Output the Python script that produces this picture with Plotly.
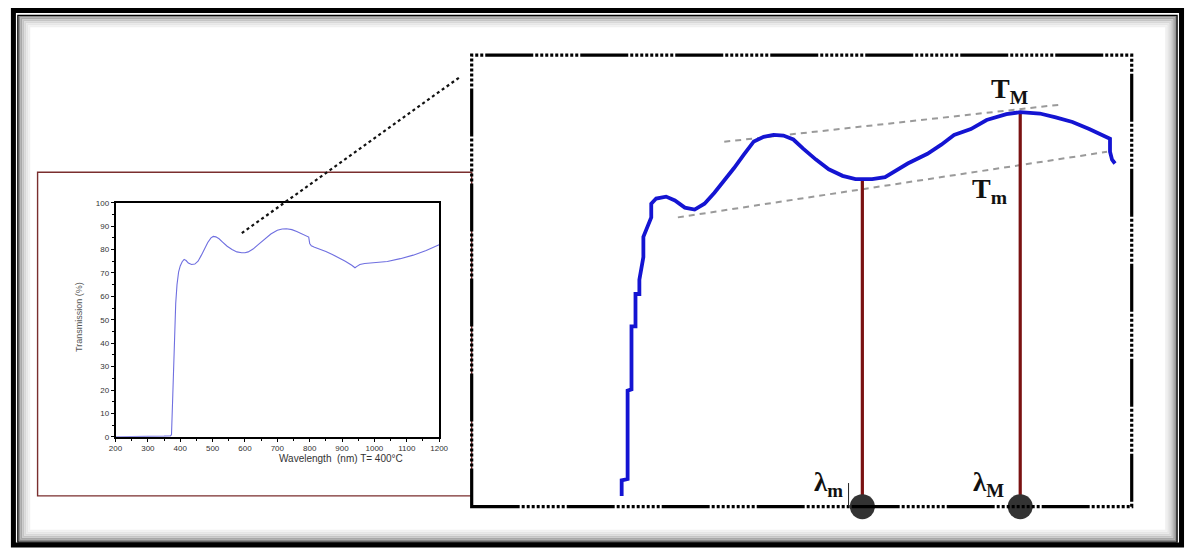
import plotly.graph_objects as go

W, H = 1193, 552

# ---------------- data ----------------
# inset: full transmission spectrum
inset_wl = [200, 250, 300, 350, 370, 373, 377, 380, 383, 386, 390, 395, 400, 406, 412,
            418, 425, 435, 445, 455, 465, 475, 485, 495, 502, 510, 520, 530, 545, 560,
            575, 590, 600, 610, 625, 640, 660, 680, 700, 715, 728, 745, 760, 775, 790,
            797, 800, 805, 815, 830, 850, 870, 890, 910, 930, 940, 946, 955, 970, 1000,
            1040, 1080, 1120, 1160, 1200]
inset_T = [0, 0, 0, 0.3, 0.4, 1, 18, 32, 45, 57, 65, 70.5, 73, 74.8, 75.8,
           75.3, 74.2, 73.6, 73.8, 75, 77.5, 80.5, 83, 85, 85.6, 85.4, 84.6, 83.3, 81.4, 80,
           79, 78.6, 78.6, 79, 80.2, 82, 84.5, 86.6, 88.2, 88.8, 88.9, 88.5, 87.7, 86.7, 85.8,
           85.3, 82.6, 81.6, 81, 80.3, 79.2, 77.9, 76.6, 75, 73.3, 72.2, 72.8, 73.6, 74, 74.3,
           74.9, 76.1, 77.6, 79.6, 82]

# zoomed view
zoom_wl = [376.1, 376.1, 381.3, 381.3, 384.7, 384.7, 388.2, 388.2, 391.6, 391.6, 395.1,
           395.1, 402.0, 402.0, 406.3, 415.0, 422.7, 431.4, 440.0, 448.6, 457.3, 465.9,
           474.5, 483.2, 491.8, 500.4, 509.1, 517.7, 526.4, 535.0, 546.2, 557.4, 569.5,
           580.8, 586.8, 595.4, 606.7, 615.3, 626.5, 643.8, 655.9, 667.1, 681.8, 695.6,
           712.9, 725.0, 742.2, 756.1, 770.7, 785.4, 799.3, 803.6, 803.6, 805.4, 808.0]
zoom_T = [29.4, 31.8, 32.0, 45.6, 45.8, 55.5, 55.5, 60.5, 60.5, 62.7, 66.2,
          69.3, 72.3, 74.4, 75.2, 75.5, 74.9, 73.8, 73.5, 74.4, 76.1, 77.9,
          79.9, 82.0, 84.0, 84.7, 85.0, 84.9, 84.3, 82.9, 81.2, 79.7, 78.7,
          78.2, 78.2, 78.2, 78.5, 79.4, 80.6, 82.1, 83.5, 85.0, 85.9, 87.3,
          88.2, 88.5, 88.3, 87.7, 87.0, 85.9, 84.8, 84.4, 82.4, 81.2, 80.6]

# envelope lines (T_M and T_m)
env_max_wl = [465.9, 762.1]
env_max_T = [83.95, 89.7]
env_min_wl = [425.3, 801.0]
env_min_T = [72.3, 82.4]

# extrema
lam_m, T_min_val = 586.8, 78.2
lam_M, T_max_val = 725.0, 88.5

Y2_RANGE = [27.74, 97.29]
X2_RANGE = [244.8, 822.6]


def px(x):
    return x / W


def py(y):
    return 1 - y / H


fig = go.Figure()

# inset curve
fig.add_trace(go.Scatter(x=inset_wl, y=inset_T, mode="lines",
                         line=dict(color="#6f6fe0", width=1.1),
                         xaxis="x", yaxis="y", hoverinfo="skip"))

# envelopes
for xs, ys in [(env_max_wl, env_max_T), (env_min_wl, env_min_T)]:
    fig.add_trace(go.Scatter(x=xs, y=ys, mode="lines",
                             line=dict(color="#9a9a9a", width=2, dash="6px,5px"),
                             xaxis="x2", yaxis="y2", hoverinfo="skip"))

# vertical lines at extrema
for lx, ly in [(lam_m, T_min_val), (lam_M, T_max_val)]:
    fig.add_trace(go.Scatter(x=[lx, lx], y=[ly, Y2_RANGE[0]], mode="lines",
                             line=dict(color="#7a1212", width=3.2),
                             xaxis="x2", yaxis="y2", hoverinfo="skip"))

# zoomed curve
fig.add_trace(go.Scatter(x=zoom_wl, y=zoom_T, mode="lines",
                         line=dict(color="#1414d2", width=3.8),
                         xaxis="x2", yaxis="y2", hoverinfo="skip"))

# dots on the axis
fig.add_trace(go.Scatter(x=[lam_m, lam_M], y=[Y2_RANGE[0], Y2_RANGE[0]], mode="markers",
                         marker=dict(color="#333333", size=25),
                         cliponaxis=False, xaxis="x2", yaxis="y2", hoverinfo="skip"))

shapes = []
# outer borders
shapes.append(dict(type="rect", xref="paper", yref="paper",
                   x0=px(6.5), x1=px(1190.5), y0=py(6.5), y1=py(550),
                   line=dict(color="black", width=5)))
# shadow gradient
grays = ["#8a8a8a", "#a8a8a8", "#c4c4c4", "#d8d8d8", "#e6e6e6", "#f0f0f0"]
for i, g in enumerate(grays):
    o = 12.5 + i * 2
    shapes.append(dict(type="rect", xref="paper", yref="paper",
                       x0=px(o), x1=px(1185 - i * 2), y0=py(o), y1=py(545.5 - i * 2),
                       line=dict(color=g, width=2)))
shapes.append(dict(type="rect", xref="paper", yref="paper",
                   x0=px(11), x1=px(1186), y0=py(11.5), y1=py(547),
                   line=dict(color="black", width=1.3)))

# red box around the inset
shapes.append(dict(type="rect", xref="paper", yref="paper",
                   x0=px(31), x1=px(471), y0=py(171), y1=py(500),
                   line=dict(color="#7a2e2e", width=1.4)))

# dotted pointer line
shapes.append(dict(type="line", xref="paper", yref="paper",
                   x0=px(238), y0=py(233), x1=px(458), y1=py(75),
                   line=dict(color="#111111", width=2.2, dash="dot")))

# zoom frame (solid / dotted alternating)
frame_dash = "48px,2px," + ",".join(["3px,2px"] * 9)
shapes.append(dict(type="rect", xref="x2 domain", yref="y2 domain",
                   x0=0, x1=1, y0=0, y1=1,
                   line=dict(color="black", width=3.2, dash=frame_dash)))

# small tick next to lambda_m
shapes.append(dict(type="line", xref="paper", yref="paper",
                   x0=px(853), x1=px(853), y0=py(487), y1=py(511),
                   line=dict(color="#222222", width=1)))

serif = "Liberation Serif, Times New Roman, serif"
annotations = [
    dict(text="<b>T<sub>M</sub></b>", x=px(1037), y=py(68), xref="paper", yref="paper",
         showarrow=False, font=dict(family=serif, size=28, color="#111")),
    dict(text="<b>T<sub>m</sub></b>", x=px(1016), y=py(190), xref="paper", yref="paper",
         showarrow=False, font=dict(family=serif, size=28, color="#111")),
    dict(text="<b>λ<sub>m</sub></b>", x=px(849), y=py(507), xref="paper", yref="paper",
         showarrow=False, font=dict(family=serif, size=27, color="#111")),
    dict(text="<b>λ<sub>M</sub></b>", x=px(1013), y=py(507), xref="paper", yref="paper",
         showarrow=False, font=dict(family=serif, size=27, color="#111")),
    dict(text="Wavelength  (nm) T= 400°C", x=px(274), y=py(470), xref="paper", yref="paper",
         showarrow=False, font=dict(family="Liberation Sans, Arial", size=10, color="#333")),
    dict(text="Transmission (%)", x=px(66), y=py(318), xref="paper", yref="paper",
         showarrow=False, textangle=-90,
         font=dict(family="Liberation Sans, Arial", size=9, color="#555")),
]

axis_common = dict(showline=True, linecolor="black", linewidth=1.5, mirror=True,
                   ticks="outside", ticklen=3, tickwidth=1, tickcolor="black",
                   showgrid=False, zeroline=False,
                   tickfont=dict(family="Liberation Sans, Arial", size=8, color="#333"))

fig.update_layout(
    width=W, height=H, margin=dict(l=0, r=0, t=0, b=0),
    paper_bgcolor="white", plot_bgcolor="rgba(0,0,0,0)",
    showlegend=False,
    xaxis=dict(domain=[px(110), px(438)], range=[200, 1200], dtick=100, anchor="y",
               minor=dict(ticks="outside", ticklen=2, dtick=50, tickcolor="black"),
               **axis_common),
    yaxis=dict(domain=[py(440), py(202)], range=[0, 100], dtick=10, anchor="x",
               minor=dict(ticks="outside", ticklen=2, dtick=5, tickcolor="black"),
               **axis_common),
    xaxis2=dict(domain=[px(471), px(1140)], range=X2_RANGE, anchor="y2", visible=False),
    yaxis2=dict(domain=[py(511), py(52)], range=Y2_RANGE, anchor="x2", visible=False),
    shapes=shapes,
    annotations=annotations,
)

fig.write_html("out.html")
